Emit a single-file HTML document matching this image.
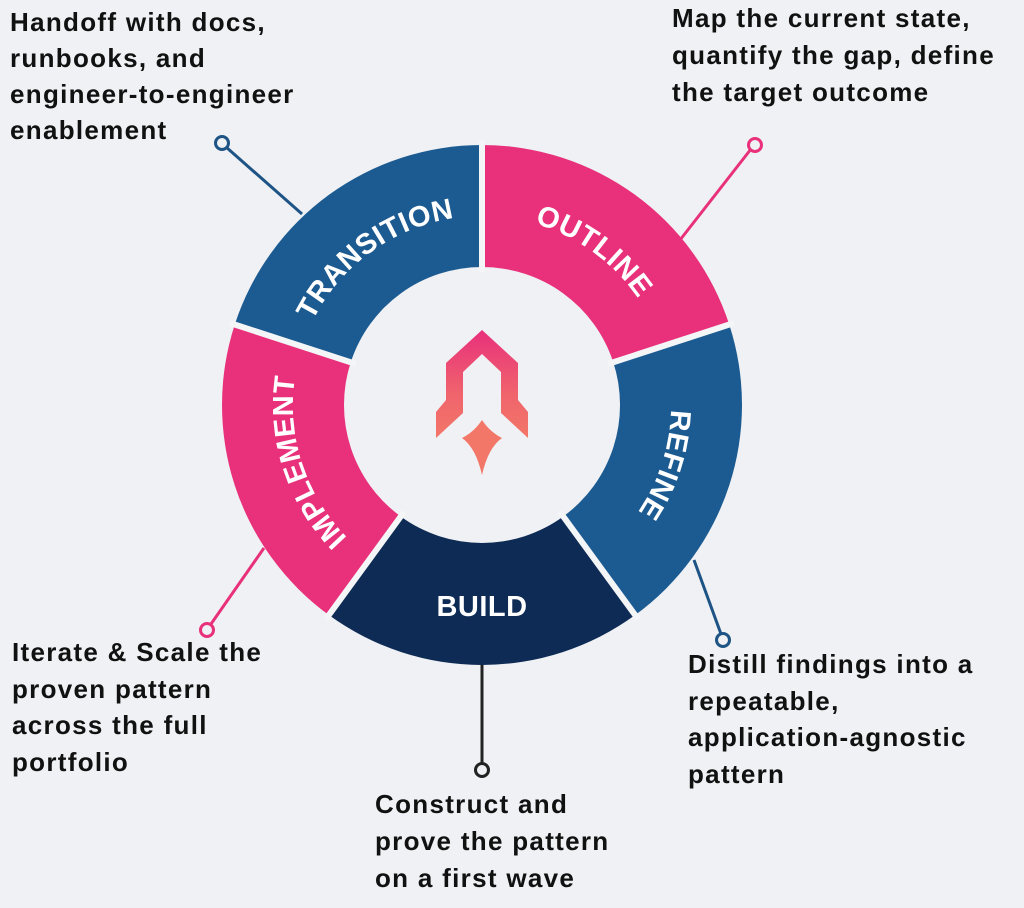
<!DOCTYPE html>
<html><head><meta charset="utf-8"><style>
html,body{margin:0;padding:0;background:#eff1f4;}
body{width:1024px;height:908px;overflow:hidden;position:relative;font-family:"Liberation Sans",sans-serif;}
.t{position:absolute;font-weight:bold;font-size:26px;line-height:37px;color:#111;letter-spacing:1.3px;white-space:nowrap;}
</style></head><body>
<svg width="1024" height="908" style="position:absolute;left:0;top:0">
<defs>
<linearGradient id="g" x1="0" y1="0" x2="0" y2="1">
<stop offset="0" stop-color="#e8307c"/><stop offset="0.6" stop-color="#f0646c"/><stop offset="1" stop-color="#f27768"/>
</linearGradient>
<path id="pT" d="M293.5,391.8 A189,189 0 0 1 527.7,221.6"/>
<path id="pO" d="M436.3,221.6 A189,189 0 0 1 670.5,391.8"/>
<path id="pR" d="M642.3,304.8 A189,189 0 0 1 552.8,580.2"/>
<path id="pI" d="M411.2,580.2 A189,189 0 0 1 321.7,304.8"/>
</defs>
<g stroke-width="3" fill="#eff1f4">
<line x1="226" y1="147" x2="302" y2="214" stroke="#1e5485"/>
<circle cx="222" cy="143" r="6.5" stroke="#1e5485"/>
<line x1="751" y1="149" x2="680" y2="240" stroke="#e8317a"/>
<circle cx="755" cy="145" r="6.5" stroke="#e8317a"/>
<line x1="694" y1="560" x2="721" y2="634" stroke="#1e5485"/>
<circle cx="723" cy="640" r="6.5" stroke="#1e5485"/>
<line x1="482" y1="660" x2="482" y2="764" stroke="#222"/>
<circle cx="482" cy="770" r="6.5" stroke="#222"/>
<line x1="264" y1="548" x2="211" y2="624" stroke="#e8317a"/>
<circle cx="207" cy="630" r="6.5" stroke="#e8317a"/>
</g>
<path d="M482,145 A260,260 0 0 1 729.3,324.7 L613.3,362.4 A138,138 0 0 0 482,267 Z" fill="#e8317a"/>
<path d="M729.3,324.7 A260,260 0 0 1 634.8,615.3 L563.1,516.6 A138,138 0 0 0 613.3,362.4 Z" fill="#1c5b91"/>
<path d="M634.8,615.3 A260,260 0 0 1 329.2,615.3 L400.9,516.6 A138,138 0 0 0 563.1,516.6 Z" fill="#0d2b55"/>
<path d="M329.2,615.3 A260,260 0 0 1 234.7,324.7 L350.7,362.4 A138,138 0 0 0 400.9,516.6 Z" fill="#e8317a"/>
<path d="M234.7,324.7 A260,260 0 0 1 482,145 L482,267 A138,138 0 0 0 350.7,362.4 Z" fill="#1c5b91"/>
<g stroke="#f4f5f7" stroke-width="6">
<line x1="482" y1="140" x2="482" y2="272"/>
<line x1="734" y1="323" x2="608" y2="364"/>
<line x1="638" y1="619" x2="560" y2="512"/>
<line x1="326" y1="619" x2="404" y2="512"/>
<line x1="230" y1="323" x2="356" y2="364"/>
</g>
<g fill="#fff" font-family="Liberation Sans, sans-serif" font-weight="bold" font-size="29" letter-spacing="0.5">
<text text-anchor="middle"><textPath href="#pT" startOffset="50%">TRANSITION</textPath></text>
<text text-anchor="middle"><textPath href="#pO" startOffset="50%">OUTLINE</textPath></text>
<text text-anchor="middle"><textPath href="#pR" startOffset="50%">REFINE</textPath></text>
<text text-anchor="middle"><textPath href="#pI" startOffset="50%">IMPLEMENT</textPath></text>
<text x="482" y="616" text-anchor="middle">BUILD</text>
</g>
<path d="M482,330 L518,363 L518,400 L528,412 L528,438 L501,413 L501,372 L482,354 L463,372 L463,413 L436,438 L436,412 L446,400 L446,363 Z" fill="url(#g)"/>
<path d="M482,420 Q490,432 502,438 Q488,448 482,475 Q476,448 462,438 Q474,432 482,420 Z" fill="#f27768"/>
</svg>
<div class="t" style="left:10px;top:4px;line-height:36px">Handoff with docs,<br>runbooks, and<br>engineer-to-engineer<br>enablement</div>
<div class="t" style="left:672px;top:0px">Map the current state,<br>quantify the gap, define<br>the target outcome</div>
<div class="t" style="left:12px;top:634px;line-height:36.5px">Iterate &amp; Scale the<br>proven pattern<br>across the full<br>portfolio</div>
<div class="t" style="left:688px;top:646px;line-height:36.5px">Distill findings into a<br>repeatable,<br>application-agnostic<br>pattern</div>
<div class="t" style="left:375px;top:786px">Construct and<br>prove the pattern<br>on a first wave</div>
</body></html>
